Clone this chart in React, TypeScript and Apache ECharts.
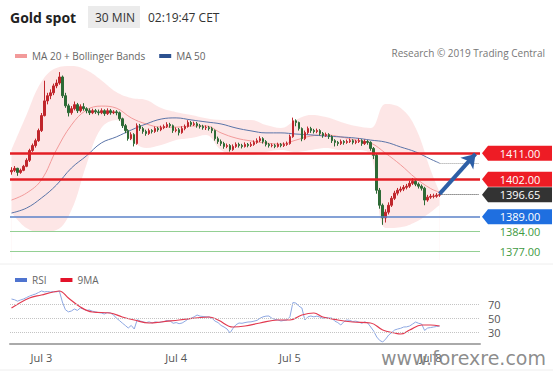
import React, { useEffect, useRef } from 'react';
import * as echarts from 'echarts';

// 30-minute slots (144 traded bars + empty slots to the right edge)
const slotCount = 157;
const categories = Array.from({ length: slotCount }, (_, i) => String(i));
const dayTicks: [number, string][] = [[10, 'Jul 3'], [55, 'Jul 4'], [93, 'Jul 5'], [140, 'Jul 8']];

// [open, close, low, high]
const candles: number[][] = [
  [1404.6,1405.1,1403.6,1406.2],[1405.1,1405.8,1404.5,1406.6],[1405.8,1404.4,1403.2,1406.0],[1404.4,1405.1,1403.9,1405.7],
  [1405.1,1406.5,1404.8,1407.0],[1406.5,1408.6,1406.2,1409.3],[1408.6,1412.0,1408.0,1412.6],[1412.0,1413.7,1411.5,1414.4],
  [1413.7,1415.4,1413.0,1416.1],[1415.4,1418.9,1415.0,1419.6],[1418.9,1424.1,1418.4,1425.0],[1424.1,1429.2,1423.8,1436.2],
  [1429.2,1431.0,1428.0,1432.0],[1431.0,1432.0,1429.8,1433.2],[1432.0,1434.4,1431.2,1435.2],[1434.4,1435.4,1433.6,1436.6],
  [1435.4,1437.5,1434.8,1439.2],[1437.5,1431.0,1430.2,1438.0],[1431.0,1427.5,1426.8,1432.0],[1427.5,1425.1,1423.8,1428.2],
  [1425.1,1426.5,1424.4,1427.4],[1426.5,1427.9,1425.9,1429.0],[1427.9,1425.8,1425.0,1428.5],[1425.8,1427.2,1425.2,1428.0],
  [1427.2,1426.5,1425.8,1428.4],[1426.5,1425.8,1424.9,1427.0],[1425.8,1425.1,1424.3,1426.6],[1425.1,1425.8,1424.6,1426.5],
  [1425.8,1425.4,1424.7,1426.4],[1425.4,1425.1,1424.2,1426.2],[1425.1,1425.8,1424.6,1426.6],[1425.8,1424.8,1424.0,1426.3],
  [1424.8,1425.8,1424.3,1426.6],[1425.8,1425.1,1424.4,1426.4],[1425.1,1425.4,1424.6,1426.0],[1425.4,1425.1,1424.2,1426.0],
  [1425.1,1423.0,1422.3,1425.5],[1423.0,1420.6,1419.8,1423.4],[1420.6,1418.9,1418.0,1421.2],[1418.9,1416.1,1415.4,1419.4],
  [1416.1,1417.5,1415.6,1418.3],[1417.5,1414.4,1413.4,1418.0],[1414.4,1420.6,1414.0,1421.4],[1420.6,1419.6,1418.8,1421.2],
  [1419.6,1418.6,1417.8,1420.2],[1418.6,1417.9,1417.1,1419.2],[1417.9,1418.9,1417.4,1419.6],[1418.9,1418.6,1417.9,1419.4],
  [1418.6,1419.6,1418.1,1420.3],[1419.6,1419.2,1418.5,1420.2],[1419.2,1419.9,1418.7,1420.6],[1419.9,1420.3,1419.4,1421.0],
  [1420.3,1421.0,1419.8,1421.8],[1421.0,1420.6,1419.9,1421.6],[1420.6,1418.9,1418.1,1421.0],[1418.9,1419.2,1418.3,1420.0],
  [1419.2,1418.2,1417.2,1419.8],[1418.2,1419.6,1417.8,1420.4],[1419.6,1420.3,1419.0,1421.0],[1420.3,1421.7,1419.9,1422.5],
  [1421.7,1421.0,1420.3,1422.2],[1421.0,1421.3,1420.5,1422.0],[1421.3,1420.6,1419.9,1421.9],[1420.6,1420.3,1419.6,1421.2],
  [1420.3,1419.9,1419.2,1420.9],[1419.9,1420.0,1419.1,1420.7],[1419.9,1419.6,1418.9,1420.5],[1419.6,1418.9,1418.0,1420.2],
  [1418.9,1416.1,1415.4,1419.3],[1416.1,1415.1,1414.3,1416.8],[1415.1,1414.4,1413.6,1415.8],[1414.4,1413.4,1412.6,1415.0],
  [1413.4,1413.7,1412.8,1414.4],[1413.7,1412.3,1411.6,1414.2],[1412.3,1413.4,1411.9,1414.1],[1413.4,1414.1,1412.9,1414.8],
  [1414.1,1413.7,1413.0,1414.7],[1413.7,1413.4,1412.7,1414.3],[1413.4,1414.1,1413.0,1414.8],[1414.1,1413.7,1413.1,1414.6],
  [1413.7,1414.1,1413.2,1414.9],[1414.1,1414.8,1413.6,1415.5],[1414.8,1415.4,1414.3,1416.2],[1415.4,1416.1,1414.9,1416.9],
  [1416.1,1415.1,1414.4,1416.6],[1415.1,1414.1,1413.4,1415.6],[1414.1,1413.7,1413.0,1414.6],[1413.7,1413.8,1413.1,1414.4],
  [1413.7,1413.4,1412.8,1414.3],[1413.4,1414.1,1413.0,1414.7],[1414.1,1413.7,1413.1,1414.6],[1413.7,1414.1,1413.2,1414.8],
  [1414.1,1414.4,1413.6,1415.1],[1414.4,1416.8,1414.0,1417.5],[1416.8,1422.3,1416.4,1423.4],[1422.3,1421.7,1420.4,1422.8],
  [1421.7,1419.6,1418.9,1422.0],[1419.6,1416.1,1415.2,1420.0],[1416.1,1418.2,1415.6,1418.9],[1418.2,1419.6,1417.6,1420.3],
  [1419.6,1418.9,1418.1,1420.2],[1418.9,1418.6,1417.9,1419.5],[1418.6,1418.9,1418.0,1419.6],[1418.9,1417.9,1417.2,1419.4],
  [1417.9,1417.2,1416.4,1418.4],[1417.2,1417.5,1416.7,1418.2],[1417.5,1416.8,1416.0,1418.0],[1416.8,1415.4,1414.6,1417.3],
  [1415.4,1414.8,1413.4,1415.9],[1414.8,1414.4,1413.6,1415.3],[1414.4,1415.1,1413.9,1415.8],[1415.1,1414.8,1414.0,1415.6],
  [1414.8,1415.1,1414.3,1415.8],[1415.1,1415.4,1414.6,1416.1],[1415.4,1414.8,1414.1,1415.9],[1414.8,1415.1,1414.2,1415.7],
  [1415.1,1415.4,1414.6,1416.2],[1415.4,1414.4,1413.6,1415.9],[1414.4,1415.1,1413.9,1415.8],[1415.1,1414.8,1414.0,1415.6],
  [1414.8,1412.7,1411.9,1415.2],[1412.7,1410.3,1409.0,1413.2],[1410.3,1398.2,1397.0,1410.8],[1398.2,1393.0,1391.8,1399.0],
  [1393.0,1388.6,1386.2,1393.6],[1388.6,1390.6,1387.0,1391.6],[1390.6,1393.0,1389.8,1394.0],[1393.0,1395.4,1392.4,1396.2],
  [1395.4,1397.2,1394.8,1398.0],[1397.2,1398.2,1396.4,1399.0],[1398.2,1398.6,1397.5,1399.5],[1398.6,1399.2,1397.9,1400.0],
  [1399.2,1399.6,1398.5,1400.4],[1399.6,1400.6,1399.0,1401.5],[1400.6,1401.3,1400.0,1402.4],[1401.3,1400.3,1399.6,1402.0],
  [1400.3,1399.6,1398.8,1400.9],[1399.6,1398.9,1398.1,1400.2],[1398.9,1394.8,1393.0,1399.4],[1394.8,1395.8,1394.2,1396.6],
  [1395.8,1396.1,1395.2,1396.9],[1396.1,1396.2,1395.4,1397.0],[1396.1,1396.5,1395.6,1397.2],[1396.5,1396.65,1395.9,1397.3],
];

// Bollinger bands / moving averages, read at every 5th bar
const bbIdx = [0,5,10,15,20,25,30,35,40,45,50,55,60,65,70,75,80,85,90,95,100,105,110,115,120,125,130,135,140,143];
const bbUpper = [1412.2,1424.3,1435.8,1440.6,1441.3,1439.9,1436.4,1432.3,1430.2,1429.5,1426.7,1425.3,1424.3,1423.2,1422.6,1422.6,1422.6,1420.8,1419.8,1422.6,1424.3,1423.6,1421.9,1420.5,1419.8,1428.1,1426.7,1419.8,1405.2,1397.5];
const bbLower = [1390.6,1385.1,1383.7,1384.4,1391.3,1407.0,1419.8,1422.6,1415.6,1412.9,1413.9,1415.6,1416.3,1417.4,1412.2,1410.4,1410.4,1411.5,1412.2,1411.5,1412.2,1412.9,1412.2,1412.2,1410.4,1385.1,1385.4,1387.2,1390.6,1393.1];
const ma20 = [1394.8,1397.2,1401.8,1412.2,1420.8,1426.0,1427.4,1426.7,1423.3,1421.2,1420.1,1420.1,1420.5,1420.5,1418.1,1416.3,1415.3,1414.6,1414.2,1415.6,1417.0,1417.4,1416.7,1415.6,1414.6,1411.0,1407.0,1402.4,1398.8,1397.5];
const ma50 = [1390.3,1392.0,1395.5,1400.0,1405.9,1410.1,1414.6,1416.7,1419.1,1421.2,1422.9,1423.3,1422.6,1421.9,1421.2,1419.8,1418.8,1418.1,1418.1,1417.7,1417.4,1417.0,1416.7,1416.3,1415.6,1414.9,1413.2,1411.5,1409.0,1407.6];

const rsi = [
  77,76,74,75.6,77,79,81,82.6,84,86,88.2,87,87.5,86.8,87.5,87,88,72.8,62,59,
  60.2,63,61,64.4,63,61,61.6,60,59,58,57.4,56,58,57.4,55,50.4,47,43.4,40,36.4,
  40,35,48,46.2,45,44,45,43.4,45,44,44.8,45.5,47,46.2,43,44,42.5,43.4,46,49,
  50,52,54.6,53,52.5,52,51.8,50,46,44,40,37.8,35,29.4,36,41,43.4,43,44,44.8,
  45,46,47,50,52,53,53.2,50,48.5,47.6,46.2,47,47.6,52,72,71.4,67,64.4,47.6,52,
  53.2,52,53,51.8,50,51,50.4,50.4,46,44,40.6,45,47.6,47,45.5,46,44.8,43,45,43.4,
  37.8,32,23.8,19,16.8,21,26.6,30,33.6,35,36,37.8,38,39.2,42,44.8,43,42,33,36.4,
  37,37.8,38.5,39.2,
];
const rsiMaIdx = [0,6,10,14,16,19,23,27,33,37,41,46,50,56,66,69,74,78,83,89,93,97,101,104,109,114,120,124,128,130,133,137,140,143];
const rsiMa = [64.4,78.4,82.6,86.8,88.2,78.4,65.8,58.8,57.4,51.8,47.6,43.4,44.8,47.6,51.8,47.6,37.8,39.2,43.4,47.6,47.6,54.6,57.4,51.8,47.6,44.8,43.4,33.6,29.4,28,33.6,40.6,40.6,39.2];
const rsiLevels = [70, 50, 30];

const resistanceLevels = [1411, 1402];
const lastPrice = 1396.65;
const supportLevel = 1389;
const minorLevels = [1384, 1377];
const ma50Last = 1407.6;
const targetLevel = 1410.8;

const lastBar = candles.length - 1;
const lastSlot = slotCount - 1;
const pairs = (idx: number[], vals: number[]) => idx.map((i, k) => [i, vals[k]]);
const boxPath = 'path://M0,7.5L6,0L70,0L70,15L6,15Z';

export default function App() {
  const ref = useRef<HTMLDivElement>(null);
  useEffect(() => {
    if (!ref.current) return;
    const chart = echarts.init(ref.current, undefined, { renderer: 'svg' });
    const font = '"Open Sans", "Noto Sans", sans-serif';
    const boxPoint = (v: number, color: string, textColor = '#fff') => ({
      coord: [lastSlot, v],
      value: v.toFixed(2),
      symbol: color === 'none' ? 'rect' : boxPath,
      symbolSize: [70, 15],
      symbolOffset: [38.5, 0],
      itemStyle: { color: color === 'none' ? 'rgba(0,0,0,0)' : color },
      label: { show: true, position: 'inside', offset: [3, 0], color: textColor, fontSize: 11, fontFamily: font, formatter: v.toFixed(2) },
    });
    chart.setOption({
      animation: false,
      textStyle: { fontFamily: font },
      grid: [
        { left: 10, right: 73, top: 64, height: 196 },
        { left: 10, right: 73, top: 284, height: 60 },
      ],
      legend: [
        {
          left: 10, top: 46, icon: 'rect', itemWidth: 12, itemHeight: 4, itemGap: 14,
          textStyle: { fontSize: 10, color: '#666', fontFamily: font },
          data: [
            { name: 'MA 20 + Bollinger Bands', itemStyle: { color: '#f29a9a' } },
            { name: 'MA 50', itemStyle: { color: '#2c5190' } },
          ],
        },
        {
          left: 10, top: 270, icon: 'rect', itemWidth: 12, itemHeight: 4, itemGap: 14,
          textStyle: { fontSize: 10, color: '#666', fontFamily: font },
          data: [
            { name: 'RSI', itemStyle: { color: '#4f74cf' } },
            { name: '9MA', itemStyle: { color: '#e3132a' } },
          ],
        },
      ],
      xAxis: [
        { type: 'category', gridIndex: 0, data: categories, show: false, boundaryGap: true },
        { type: 'value', gridIndex: 0, min: -0.5, max: slotCount - 0.5, show: false },
        {
          type: 'category', gridIndex: 1, data: categories, boundaryGap: true,
          axisLine: { lineStyle: { color: '#aaa', width: 2 } },
          axisTick: { show: false },
          axisLabel: {
            interval: 0, color: '#555', fontSize: 11, margin: 8,
            formatter: (_v: string, idx: number) => {
              const t = dayTicks.find((d) => d[0] === idx);
              return t ? t[1] : '';
            },
          },
        },
        { type: 'value', gridIndex: 1, min: -0.5, max: slotCount - 0.5, show: false },
      ],
      yAxis: [
        { type: 'value', gridIndex: 0, min: 1374, max: 1442, show: false, splitLine: { show: false } },
        { type: 'value', gridIndex: 1, min: 14, max: 98, show: false, splitLine: { show: false } },
      ],
      graphic: [
        { type: 'text', x: 10, y: 17, style: { text: 'Gold spot', fontSize: 14, fontWeight: 'bold', fontFamily: font, fill: '#222', verticalAlign: 'middle' } },
        { type: 'rect', shape: { x: 88, y: 6, width: 52, height: 22 }, style: { fill: '#ebebeb' } },
        { type: 'text', x: 95, y: 17, style: { text: '30 MIN', fontSize: 12, fontFamily: font, fill: '#333', verticalAlign: 'middle' } },
        { type: 'text', x: 148, y: 17, style: { text: '02:19:47 CET', fontSize: 12, fontFamily: font, fill: '#333', verticalAlign: 'middle' } },
        { type: 'text', x: 545, y: 53, style: { text: 'Research © 2019 Trading Central', fontSize: 10, fontFamily: font, fill: '#777', align: 'right', verticalAlign: 'middle' } },
        { type: 'line', shape: { x1: 0, y1: 264, x2: 553, y2: 264 }, style: { stroke: '#eeeeee', lineWidth: 1 } },
        { type: 'line', shape: { x1: 0, y1: 370, x2: 553, y2: 370 }, style: { stroke: '#eeeeee', lineWidth: 1 } },
        { type: 'text', x: 546, y: 358, z: 100, style: { text: 'www.forexre.com', fontSize: 19, fontFamily: '"DejaVu Sans", sans-serif', fill: 'rgba(120,120,120,0.85)', align: 'right', verticalAlign: 'middle' } },
      ],
      series: [
        {
          name: 'bbUpper', type: 'line', xAxisIndex: 1, yAxisIndex: 0, data: pairs(bbIdx, bbUpper),
          smooth: 0.4, symbol: 'none', silent: true, z: 1,
          lineStyle: { width: 0 }, areaStyle: { color: 'rgba(251,205,205,0.5)', opacity: 1 },
        },
        {
          name: 'bbLower', type: 'line', xAxisIndex: 1, yAxisIndex: 0, data: pairs(bbIdx, bbLower),
          smooth: 0.4, symbol: 'none', silent: true, z: 1,
          lineStyle: { width: 0 }, areaStyle: { color: '#ffffff', opacity: 1 },
        },
        {
          name: 'MA 20 + Bollinger Bands', type: 'line', xAxisIndex: 1, yAxisIndex: 0, data: pairs(bbIdx, ma20),
          smooth: 0.4, symbol: 'none', z: 2, itemStyle: { color: '#f29a9a' }, lineStyle: { color: '#f29a9a', width: 1 },
        },
        {
          name: 'MA 50', type: 'line', xAxisIndex: 1, yAxisIndex: 0, data: pairs(bbIdx, ma50),
          smooth: 0.4, symbol: 'none', z: 2, itemStyle: { color: '#2c5190' }, lineStyle: { color: '#5a74a8', width: 1 },
        },
        {
          name: 'Gold', type: 'candlestick', xAxisIndex: 0, yAxisIndex: 0, data: candles, barWidth: 2, z: 3,
          itemStyle: { color: '#c0262c', color0: '#2d6a35', borderColor: '#c0262c', borderColor0: '#2d6a35', borderWidth: 1 },
          markLine: {
            silent: true, symbol: 'none', animation: false, label: { show: false }, z: 5,
            data: [
              ...minorLevels.map((v) => ({ yAxis: v, lineStyle: { color: '#94d094', width: 1, type: 'solid' } })),
              { yAxis: supportLevel, lineStyle: { color: '#5b82c8', width: 1.5, type: 'solid' } },
              ...resistanceLevels.map((v) => ({ yAxis: v, lineStyle: { color: '#e31e24', width: 2.5, type: 'solid' } })),
              [
                { coord: [lastBar, lastPrice], lineStyle: { color: '#444', width: 1, type: 'dotted' } },
                { coord: [lastSlot, lastPrice] },
              ],
              [
                { coord: [lastBar, ma50Last], lineStyle: { color: '#999', width: 1, type: 'dotted' } },
                { coord: [lastSlot, ma50Last] },
              ],
              [
                { coord: [lastBar, lastPrice + 0.3], symbol: 'none', lineStyle: { color: '#2d5fa6', width: 4, type: 'solid' } },
                { coord: [lastSlot - 1, targetLevel], symbol: 'arrow', symbolSize: 13 },
              ],
            ],
          },
          markPoint: {
            silent: true, animation: false, z: 6,
            data: [
              boxPoint(resistanceLevels[0], '#ee1c25'),
              boxPoint(resistanceLevels[1], '#ee1c25'),
              boxPoint(lastPrice, '#333333'),
              boxPoint(supportLevel, '#1f6fe0'),
              boxPoint(minorLevels[0], 'none', '#3f9a3f'),
              boxPoint(minorLevels[1], 'none', '#3f9a3f'),
            ],
          },
        },
        {
          name: 'RSI', type: 'line', xAxisIndex: 2, yAxisIndex: 1, data: rsi, symbol: 'none',
          itemStyle: { color: '#4f74cf' }, lineStyle: { color: '#8ea8e2', width: 1 },
          markLine: {
            silent: true, symbol: 'none', animation: false,
            lineStyle: { color: '#c4c4c4', type: 'dotted', width: 1 },
            label: { show: true, position: 'end', color: '#555', fontSize: 11, distance: 8, formatter: (p: any) => String(p.value) },
            data: rsiLevels.map((v) => ({ yAxis: v })),
          },
        },
        {
          name: '9MA', type: 'line', xAxisIndex: 3, yAxisIndex: 1, data: pairs(rsiMaIdx, rsiMa), smooth: 0.4, symbol: 'none',
          itemStyle: { color: '#e3132a' }, lineStyle: { color: '#e23a50', width: 1.2 },
        },
      ],
    });
    return () => chart.dispose();
  }, []);
  return <div ref={ref} style={{ position: 'fixed', left: 0, top: 0, width: 553, height: 375, background: '#fff' }} />;
}
